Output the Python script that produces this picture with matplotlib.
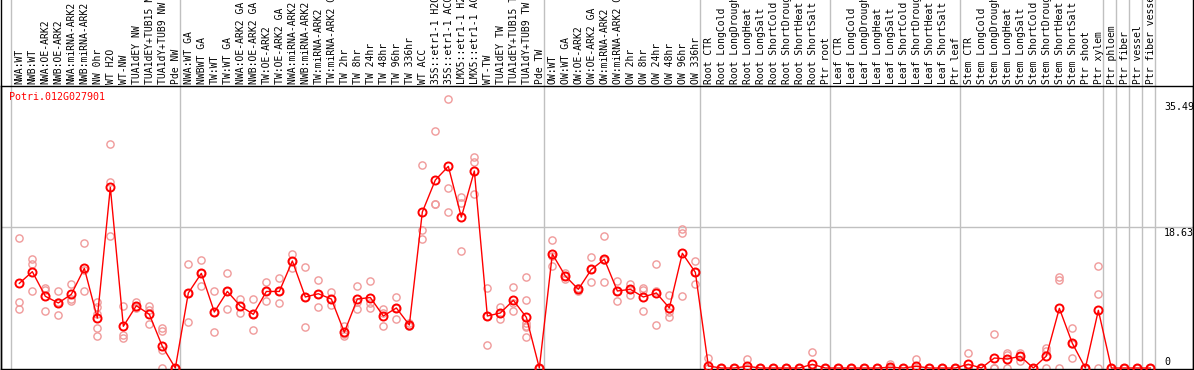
import matplotlib
matplotlib.use("Agg")
import matplotlib.pyplot as plt
import matplotlib.transforms as mtransforms
from matplotlib.lines import Line2D

plt.rcParams['font.family'] = ['DejaVu Sans Mono']

gene = "Potri.012G027901"

# sample names, grouped (a grey line separates each group)
group_sizes = [13, 28, 12, 10, 10, 11, 1, 1, 1, 1]
samples = [
    "NWA:WT", "NWB:WT", "NWA:OE-ARK2", "NWB:OE-ARK2", "NWA:miRNA-ARK2", "NWB:miRNA-ARK2",
    "NW 0hr", "WT H2O", "WT-NW", "TUA1dEY NW", "TUA1dEY+TUB15 NW", "TUA1dY+TUB9 NW", "Pde NW",
    "NWA:WT GA", "NWBWT GA", "TW:WT", "TW:WT GA", "NWA:OE-ARK2 GA", "NWB:OE-ARK2 GA",
    "TW:OE-ARK2", "TW:OE-ARK2 GA", "NWA:miRNA-ARK2 GA", "NWB:miRNA-ARK2 GA", "TW:miRNA-ARK2",
    "TW:miRNA-ARK2 GA", "TW 2hr", "TW 8hr", "TW 24hr", "TW 48hr", "TW 96hr", "TW 336hr",
    "WT ACC", "35S::etr1-1 H2O", "35S::etr1-1 ACC", "LMX5::etr1-1 H2O", "LMX5::etr1-1 ACC",
    "WT-TW", "TUA1dEY TW", "TUA1dEY+TUB15 TW", "TUA1dY+TUB9 TW", "Pde TW",
    "OW:WT", "OW:WT GA", "OW:OE-ARK2", "OW:OE-ARK2 GA", "OW:miRNA-ARK2", "OW:miRNA-ARK2 GA",
    "OW 2hr", "OW 8hr", "OW 24hr", "OW 48hr", "OW 96hr", "OW 336hr",
    "Root CTR", "Root LongCold", "Root LongDrought", "Root LongHeat", "Root LongSalt",
    "Root ShortCold", "Root ShortDrought", "Root ShortHeat", "Root ShortSalt", "Ptr root",
    "Leaf CTR", "Leaf LongCold", "Leaf LongDrought", "Leaf LongHeat", "Leaf LongSalt",
    "Leaf ShortCold", "Leaf ShortDrought", "Leaf ShortHeat", "Leaf ShortSalt", "Ptr leaf",
    "Stem CTR", "Stem LongCold", "Stem LongDrought", "Stem LongHeat", "Stem LongSalt",
    "Stem ShortCold", "Stem ShortDrought", "Stem ShortHeat", "Stem ShortSalt", "Ptr shoot",
    "Ptr xylem", "Ptr phloem", "Ptr fiber", "Ptr vessel", "Ptr fiber vessel",
]

means = [
    11.17, 12.71, 9.46, 8.58, 9.72, 13.15, 6.6, 23.84, 5.5, 8.22, 7.08, 2.86, 0,
    9.9, 12.49, 7.39, 10.1, 8.18, 7.08, 10.1, 10.1, 14.12, 9.37, 9.8, 9.1, 4.71, 9.1,
    9.3, 6.86, 7.92, 5.67, 20.58, 24.8, 26.6, 19.9, 25.99, 6.86, 7.26, 8.93, 6.69, 0,
    15.04, 12.14, 10.38, 13.0, 14.34, 10.16, 10.38, 9.37, 9.9, 7.92, 15.13, 12.62,
    0.26, 0, 0, 0.23, 0, 0, 0, 0, 0.49, 0,
    0, 0, 0, 0, 0.1, 0, 0.22, 0, 0, 0,
    0.5, 0, 1.32, 1.19, 1.54, 0, 1.58, 7.87, 3.25, 0, 7.61,
    0, 0, 0, 0,
]

Z = [0, 0, 0]
replicates = [
    [17.1, 8.67, 7.74], [14.38, 13.72, 10.1], [10.5, 10.35, 7.52], [10.1, 8.7, 6.95],
    [11.08, 9.15, 8.9], [16.45, 12.9, 10.1], [8.67, 8.09, 7.12, 5.24, 4.18],
    [29.55, 24.54, 17.41], [8.18, 4.4, 3.92], [8.67, 8.1, 7.88], [8.18, 7.65, 5.76],
    [5.24, 4.93, 2.37, 0], Z,
    [13.72, 9.95, 6.03], [14.2, 12.5, 10.8], [10.1, 7.4, 4.7], [12.49, 10.1, 7.74],
    [9.06, 8.18, 7.3], [9.15, 7.08, 5.01], [11.3, 10.1, 8.84], [11.83, 10.1, 8.53],
    [15.04, 14.12, 13.15], [13.32, 9.4, 5.37], [11.57, 9.8, 8.0], [10.0, 9.1, 8.3],
    [5.58, 4.44, 4.22], [10.8, 8.7, 7.83], [11.44, 8.6, 7.87], [7.83, 7.3, 5.5],
    [9.33, 7.9, 6.42], [5.9, 5.58, 5.5], [26.78, 18.2, 16.98], [31.2, 21.6, 21.6],
    [35.49, 23.75, 20.58], [22.5, 21.8, 15.4], [27.9, 27.2, 22.96], [10.5, 6.9, 3.1],
    [8.05, 7.2, 6.5], [10.69, 8.6, 7.48], [12.0, 8.97, 6.0, 5.6, 5.37, 4.09], Z,
    [16.9, 14.8, 13.46], [12.5, 12.14, 11.8], [10.6, 10.38, 10.1], [14.7, 13.0, 11.3],
    [17.4, 14.3, 11.3], [11.44, 10.2, 8.8], [11.08, 10.4, 9.67], [10.5, 10.3, 7.5],
    [13.72, 10.16, 5.63], [9.63, 7.35, 6.69], [18.38, 17.77, 9.5], [14.07, 12.7, 11.04],
    [1.32, 0, 0], Z, Z, [1.19, 0, 0], Z, Z, Z, Z, [2.1, 0, 0], Z,
    Z, Z, Z, Z, [0.5, 0, 0], Z, [1.15, 0, 0], Z, Z, Z,
    [1.93, 0, 0], Z, [4.44, 0, 0], [2.0, 1.7, 0], [2.0, 1.6, 0.92], Z,
    [2.6, 2.29, 0], [11.96, 11.66, 0], [5.24, 3.2, 1.32], Z, [13.4, 9.72, 0],
    Z, Z, Z, Z,
]

y_ticks = [35.49, 18.63, 0]

W, H = 1194, 370
fig = plt.figure(figsize=(W / 100, H / 100), dpi=100)
ax = fig.add_axes([1 / W, 1 / H, 1192 / W, 283 / H])

red = '#ff0000'
pink = '#f09a9a'
grey = '#c0c0c0'

x = list(range(len(samples)))
ax.set_xlim(-1.41, 90.28)
ax.set_ylim(-0.13, 37.2)

# group separators (run up through the label header)
pos = 0
for n in [0] + group_sizes:
    pos += n
    ax.axvline(pos - 0.66, ymin=0, ymax=369 / 283, color=grey, lw=1,
               clip_on=False, zorder=1)
ax.axhline(y_ticks[1], color=grey, lw=1, zorder=1)

# replicate points
for i, reps in enumerate(replicates):
    ax.plot([i] * len(reps), reps, linestyle='none', marker='o', ms=5.2,
            mfc='none', mec=pink, mew=1.0, zorder=2, clip_on=False)

# mean line
ax.plot(x, means, color=red, lw=1, zorder=3, clip_on=False)
ax.plot(x, means, linestyle='none', marker='o', ms=5.8, mfc='none',
        mec=red, mew=1.4, zorder=4, clip_on=False)

for s in ['left', 'right', 'top', 'bottom']:
    ax.spines[s].set_color('black')
    ax.spines[s].set_linewidth(1)
ax.set_xticks([])
ax.set_yticks([])

# sample labels in the header
trans = mtransforms.blended_transform_factory(ax.transData, fig.transFigure)
for i, name in enumerate(samples):
    ax.text(i + 0.03, (H - 84) / H, name, rotation=90, ha='center', va='bottom',
            fontsize=7, color='black', transform=trans, clip_on=False)

# frame lines through the header
fig.add_artist(Line2D([1 / W, 1 / W], [0, 1], color='black', lw=1))
fig.add_artist(Line2D([1193 / W, 1193 / W], [0, 1], color='black', lw=1))

# y value labels
fig.text(1164 / W, 1 - 102 / H, f"{y_ticks[0]:.2f}", ha='left', va='top', fontsize=7.2)
fig.text(1164 / W, 1 - 228 / H, f"{y_ticks[1]:.2f}", ha='left', va='top', fontsize=7.2)
fig.text(1164 / W, 1 - 367 / H, "0", ha='left', va='bottom', fontsize=7.2)

fig.text(9 / W, 1 - 92 / H, gene, ha='left', va='top', fontsize=7.2, color=red)

fig.savefig("out.png", dpi=100)
